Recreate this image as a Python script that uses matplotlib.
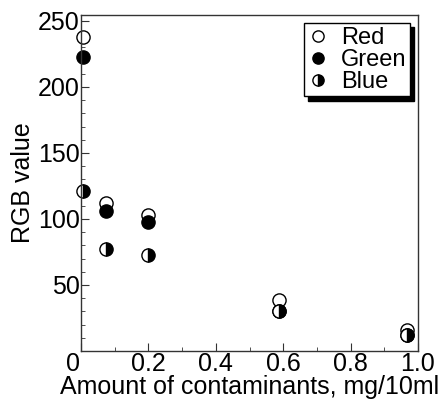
import matplotlib
matplotlib.use("Agg")
import matplotlib.pyplot as plt
import matplotlib.transforms as mtransforms
from matplotlib.ticker import MultipleLocator

plt.rcParams['font.family'] = ['Liberation Sans', 'DejaVu Sans']

# values
conc = [0.005, 0.073, 0.2, 0.588, 0.967]
red = [238, 112, 103, 38.5, 16]
green = [223, 106, 98, 30, 12]
blue = [121, 77, 73, 30, 12]

fig = plt.figure(figsize=(4.47, 4.03), dpi=100)
ax = fig.add_axes([81/447, 1-351/403, 337/447, 336/403])

ms = 9.5
ax.plot(conc, red, 'o', ls='none', ms=ms, mfc='white', mec='black', mew=1, label='Red', clip_on=False)
ax.plot(conc, green, 'o', ls='none', ms=ms, mfc='black', mec='black', mew=1, label='Green', clip_on=False)
ax.plot(conc, blue, 'o', ls='none', ms=ms, mfc='black', mfcalt='white', fillstyle='right',
        mec='black', mew=1, label='Blue', clip_on=False)

ax.set_xlim(0, 1.0)
ax.set_ylim(0, 254.5)
ax.set_xticks([0, 0.2, 0.4, 0.6, 0.8, 1.0])
ax.set_xticklabels(['0', '0.2', '0.4', '0.6', '0.8', '1.0'])
ax.set_yticks([50, 100, 150, 200, 250])
ax.xaxis.set_minor_locator(MultipleLocator(0.1))
ax.yaxis.set_minor_locator(MultipleLocator(10))
ax.tick_params(which='both', direction='in', top=False, right=False, labelsize=18, color='#333333')
ax.tick_params(which='major', length=6, pad=1)
ax.tick_params(which='minor', length=3)
for s in ax.spines.values():
    s.set_color('#333333')
    s.set_linewidth(1)

# the "0" sits a bit left of the axis corner in the original
lab0 = ax.get_xticklabels()[0]
lab0.set_transform(lab0.get_transform() + mtransforms.ScaledTranslation(-0.08, 0, fig.dpi_scale_trans))

ax.set_xlabel('Amount of contaminants, mg/10ml', fontsize=18, labelpad=-1)
ax.set_ylabel('RGB value', fontsize=18, labelpad=2)

leg = ax.legend(loc='upper right', fontsize=17, frameon=True, fancybox=False,
                shadow={'color': 'black', 'alpha': 1, 'ox': 3, 'oy': -3},
                handletextpad=0.5, labelspacing=0.0, borderpad=0.15,
                handlelength=0.9, borderaxespad=0.35, markerscale=0.85)
leg.get_frame().set_edgecolor('black')
leg.get_frame().set_linewidth(1)

fig.savefig('out.png', dpi=100)
